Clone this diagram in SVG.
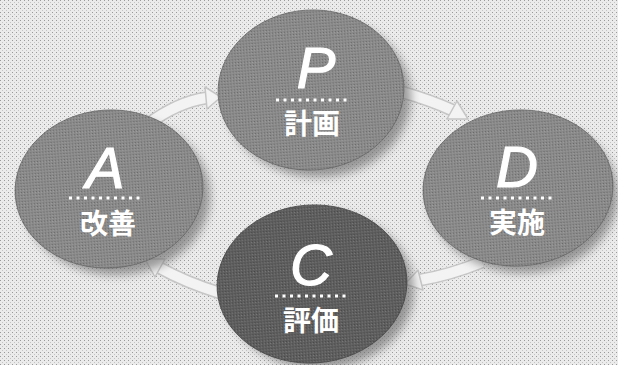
<svg xmlns="http://www.w3.org/2000/svg" width="618" height="365" viewBox="0 0 618 365">
<defs>
<pattern id="dots" width="4" height="4" patternUnits="userSpaceOnUse">
<rect width="4" height="4" fill="#ebebeb"/>
<rect x="0" y="0" width="1" height="1" fill="#9a9a9a"/>
<rect x="2" y="2" width="1" height="1" fill="#c4c4c4"/>
</pattern>
<pattern id="grain" width="3" height="3" patternUnits="userSpaceOnUse">
<rect x="0" y="0" width="1" height="1" fill="#000" fill-opacity="0.25"/>
<rect x="2" y="1" width="1" height="1" fill="#fff" fill-opacity="0.18"/>
</pattern>
<filter id="blur" x="-20%" y="-20%" width="140%" height="140%">
<feGaussianBlur stdDeviation="5"/>
</filter>
</defs>
<style>
.bg{fill:url(#dots)}
.shadow{fill:#6a6a6a;opacity:0.65;filter:url(#blur)}
.node{fill:#8a8a8a;stroke:#666;stroke-width:0.8}
.node.dark{fill:#5e5e5e;stroke:#444}
.grain{fill:url(#grain)}
.letter{font-family:"Liberation Sans","DejaVu Sans",sans-serif;font-style:italic;font-weight:normal;font-size:58px;fill:#fff;stroke:#fff;stroke-width:1.2;text-anchor:middle}
.kanji{font-family:"Noto Sans CJK JP","Noto Sans",sans-serif;font-weight:bold;font-size:28px;fill:#fff;text-anchor:middle}
.dotline{stroke:#fff;stroke-width:3;stroke-dasharray:3 4.5;fill:none}
.abody-o{fill:none;stroke:#c6c6c6;stroke-width:13;stroke-linecap:butt}
.abody{fill:none;stroke:#f3f3f3;stroke-width:10;stroke-linecap:butt}
.ahead{fill:#f3f3f3;stroke:#c6c6c6;stroke-width:1.5;stroke-linejoin:round}
</style>
<rect class="bg" x="0" y="0" width="618" height="365"/>

<g id="connectors">
<path class="abody-o" d="M148,124 Q178,102 206,98"/>
<path class="abody" d="M148,124 Q178,102 206,98"/>
<polygon class="ahead" points="221,97 205,87 207,109"/>
<path class="abody-o" d="M402,92 Q430,100 452,110"/>
<path class="abody" d="M402,92 Q430,100 452,110"/>
<polygon class="ahead" points="468,119 457,101 447,119"/>
<path class="abody-o" d="M482,262 Q450,275 420,280"/>
<path class="abody" d="M482,262 Q450,275 420,280"/>
<polygon class="ahead" points="405,284 418,270 423,290"/>
<path class="abody-o" d="M220,293 Q185,282 160,268"/>
<path class="abody" d="M220,293 Q185,282 160,268"/>
<polygon class="ahead" points="145,259 165,259 155,277"/>
</g>

<g id="node-P">
<ellipse class="shadow" cx="318" cy="97" rx="93" ry="80"/>
<ellipse class="node" cx="311" cy="90" rx="93" ry="80" transform="rotate(-4 311 90)"/>
<ellipse class="grain" cx="311" cy="90" rx="93" ry="80" transform="rotate(-4 311 90)"/>
<text class="letter" x="316" y="88">P</text>
<line class="dotline" x1="276" y1="100" x2="348" y2="100"/>
<text class="kanji" x="312" y="134">計画</text>
</g>

<g id="node-A">
<ellipse class="shadow" cx="116" cy="196" rx="94" ry="79"/>
<ellipse class="node" cx="109" cy="189" rx="94" ry="79" transform="rotate(-4 109 189)"/>
<ellipse class="grain" cx="109" cy="189" rx="94" ry="79" transform="rotate(-4 109 189)"/>
<text class="letter" x="105" y="188">A</text>
<line class="dotline" x1="69" y1="198" x2="142" y2="198"/>
<text class="kanji" x="108" y="234">改善</text>
</g>

<g id="node-D">
<ellipse class="shadow" cx="523" cy="195" rx="95" ry="78"/>
<ellipse class="node" cx="518" cy="188" rx="95" ry="78" transform="rotate(-4 518 188)"/>
<ellipse class="grain" cx="518" cy="188" rx="95" ry="78" transform="rotate(-4 518 188)"/>
<text class="letter" x="517" y="187">D</text>
<line class="dotline" x1="481" y1="198" x2="553" y2="198"/>
<text class="kanji" x="517" y="233">実施</text>
</g>

<g id="node-C">
<ellipse class="shadow" cx="319" cy="290" rx="95" ry="79"/>
<ellipse class="node dark" cx="312" cy="284" rx="95" ry="79" transform="rotate(-4 312 284)"/>
<ellipse class="grain" cx="312" cy="284" rx="95" ry="79" transform="rotate(-4 312 284)"/>
<text class="letter" x="311" y="285">C</text>
<line class="dotline" x1="275" y1="296" x2="346" y2="296"/>
<text class="kanji" x="311" y="331">評価</text>
</g>
</svg>
